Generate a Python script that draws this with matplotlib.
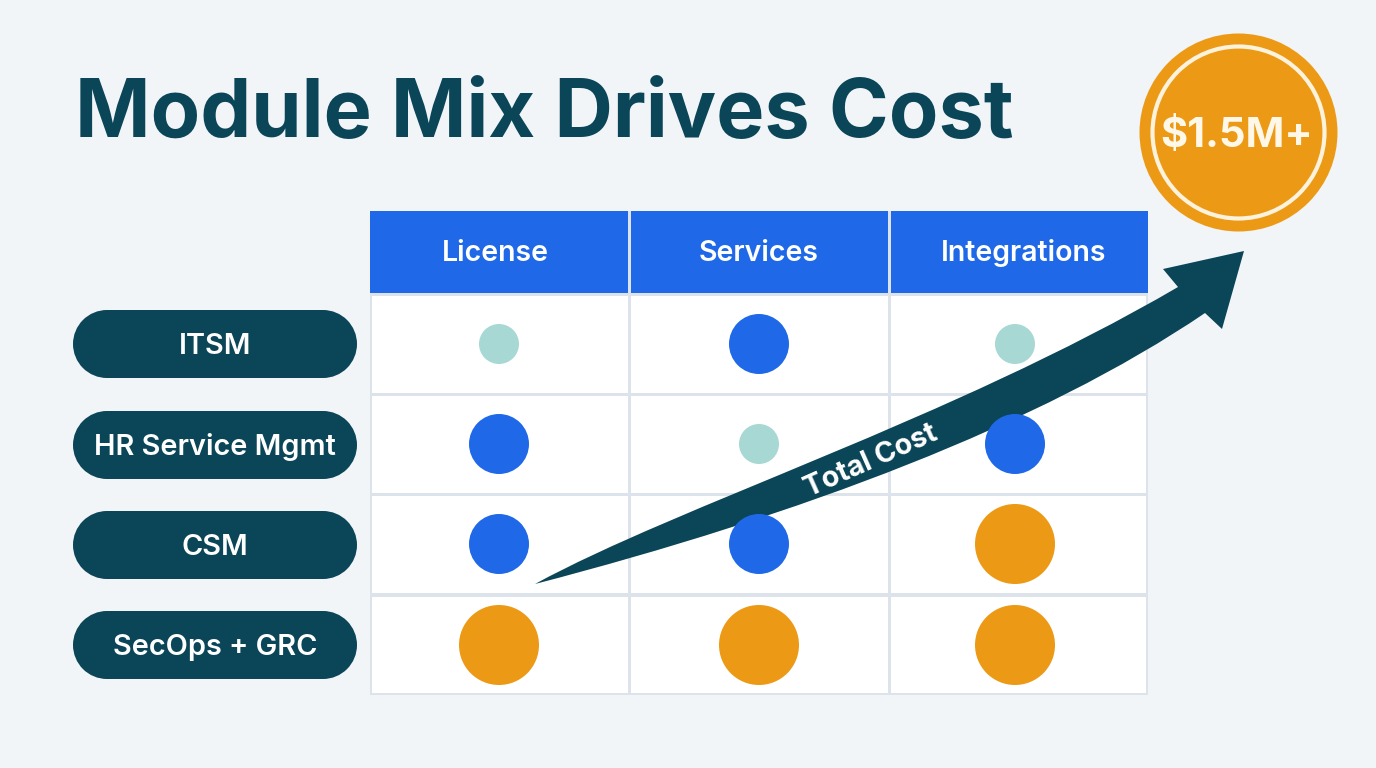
import matplotlib
matplotlib.use('Agg')
import matplotlib.pyplot as plt
from matplotlib.patches import Circle, PathPatch, Rectangle
from matplotlib.path import Path

plt.rcParams['font.family'] = ['Inter', 'DejaVu Sans']

title = 'Module Mix Drives Cost'
columns = ['License', 'Services', 'Integrations']
modules = ['ITSM', 'HR Service Mgmt', 'CSM', 'SecOps + GRC']
# 0 low, 1 medium, 2 high
levels = [
    [0, 1, 0],
    [1, 0, 1],
    [1, 1, 2],
    [2, 2, 2],
]
arrow_label = 'Total Cost'
badge_label = '$1.5M+'

BG = '#F1F5F8'
DARK = '#0B4558'
BLUE = '#1F69E9'
ORANGE = '#EC9A16'
PALE = '#A8D8D3'
GRID = '#DCE3EB'
level_radius = [20, 30, 40]
level_color = [PALE, BLUE, ORANGE]

col_left = [372, 631, 891]
col_right = [628, 888, 1146]
head_left = [370, 631, 891]
head_right = [628, 888, 1148]
head_x = [495, 759, 1024]
dot_x = [499, 759, 1015]
row_top = [296, 396, 496, 597]
row_bottom = [393, 493, 593, 693]
dot_y = [344, 444, 544, 645]
pill_y = [344, 445, 545, 645]

fig = plt.figure(figsize=(13.76, 7.68), dpi=100, facecolor=BG)
ax = fig.add_axes([0, 0, 1, 1])
ax.set_xlim(0, 1376)
ax.set_ylim(768, 0)
ax.axis('off')

ax.text(75, 137, title, fontsize=58.3, fontweight='bold', color=DARK, va='baseline', ha='left')

# table
ax.add_patch(Rectangle((370, 211), 778, 484, fc=GRID, ec='none', zorder=1))
for i, name in enumerate(columns):
    ax.add_patch(Rectangle((head_left[i], 211), head_right[i] - head_left[i], 82, fc=BLUE, ec='none', zorder=2))
    ax.text(head_x[i], 261, name, fontsize=20.5, fontweight='semibold',
            color='white', ha='center', va='baseline', zorder=3)
    for top, bottom in zip(row_top, row_bottom):
        ax.add_patch(Rectangle((col_left[i], top), col_right[i] - col_left[i], bottom - top,
                               fc='white', ec='none', zorder=2))

# module pills, rectangle plus two end circles so the caps are really round
for name, y in zip(modules, pill_y):
    ax.add_patch(Rectangle((107, y - 34), 216, 68, fc=DARK, ec='none', zorder=2))
    ax.add_patch(Circle((107, y), 34, fc=DARK, ec='none', zorder=2))
    ax.add_patch(Circle((323, y), 34, fc=DARK, ec='none', zorder=2))
    ax.text(215, y + 10, name, fontsize=20.8, fontweight='semibold', color='white',
            ha='center', va='baseline', zorder=3)

# arrow sits under the dots
verts = [(535, 584), (680, 505), (950, 420), (1178, 287), (1163, 269), (1244, 251), (1222, 329), (1205, 313),
         (1040, 425), (800, 515), (535, 584), (535, 584)]
codes = [Path.MOVETO, Path.CURVE4, Path.CURVE4, Path.CURVE4, Path.LINETO, Path.LINETO, Path.LINETO, Path.LINETO,
         Path.CURVE4, Path.CURVE4, Path.CURVE4, Path.CLOSEPOLY]
ax.add_patch(PathPatch(Path(verts, codes), fc=DARK, ec='none', zorder=4))
ax.text(871, 461, arrow_label, fontsize=20.5, fontweight='bold', color='white', rotation=24,
        rotation_mode='anchor', ha='center', va='center', zorder=5)

for r, row in enumerate(levels):
    for c, lv in enumerate(row):
        ax.add_patch(Circle((dot_x[c], dot_y[r]), level_radius[lv], fc=level_color[lv], ec='none', zorder=6))

# badge
ax.add_patch(Circle((1238.5, 132.5), 99, fc=ORANGE, ec='none', zorder=6))
ax.add_patch(Circle((1238.5, 132.5), 86, fc='none', ec='#FDF3DC', lw=3, zorder=7))
ax.text(1237, 147, badge_label, fontsize=30, fontweight='bold', color='#FFF8E8',
        ha='center', va='baseline', zorder=8)

fig.savefig('out.png', dpi=100, facecolor=BG)
